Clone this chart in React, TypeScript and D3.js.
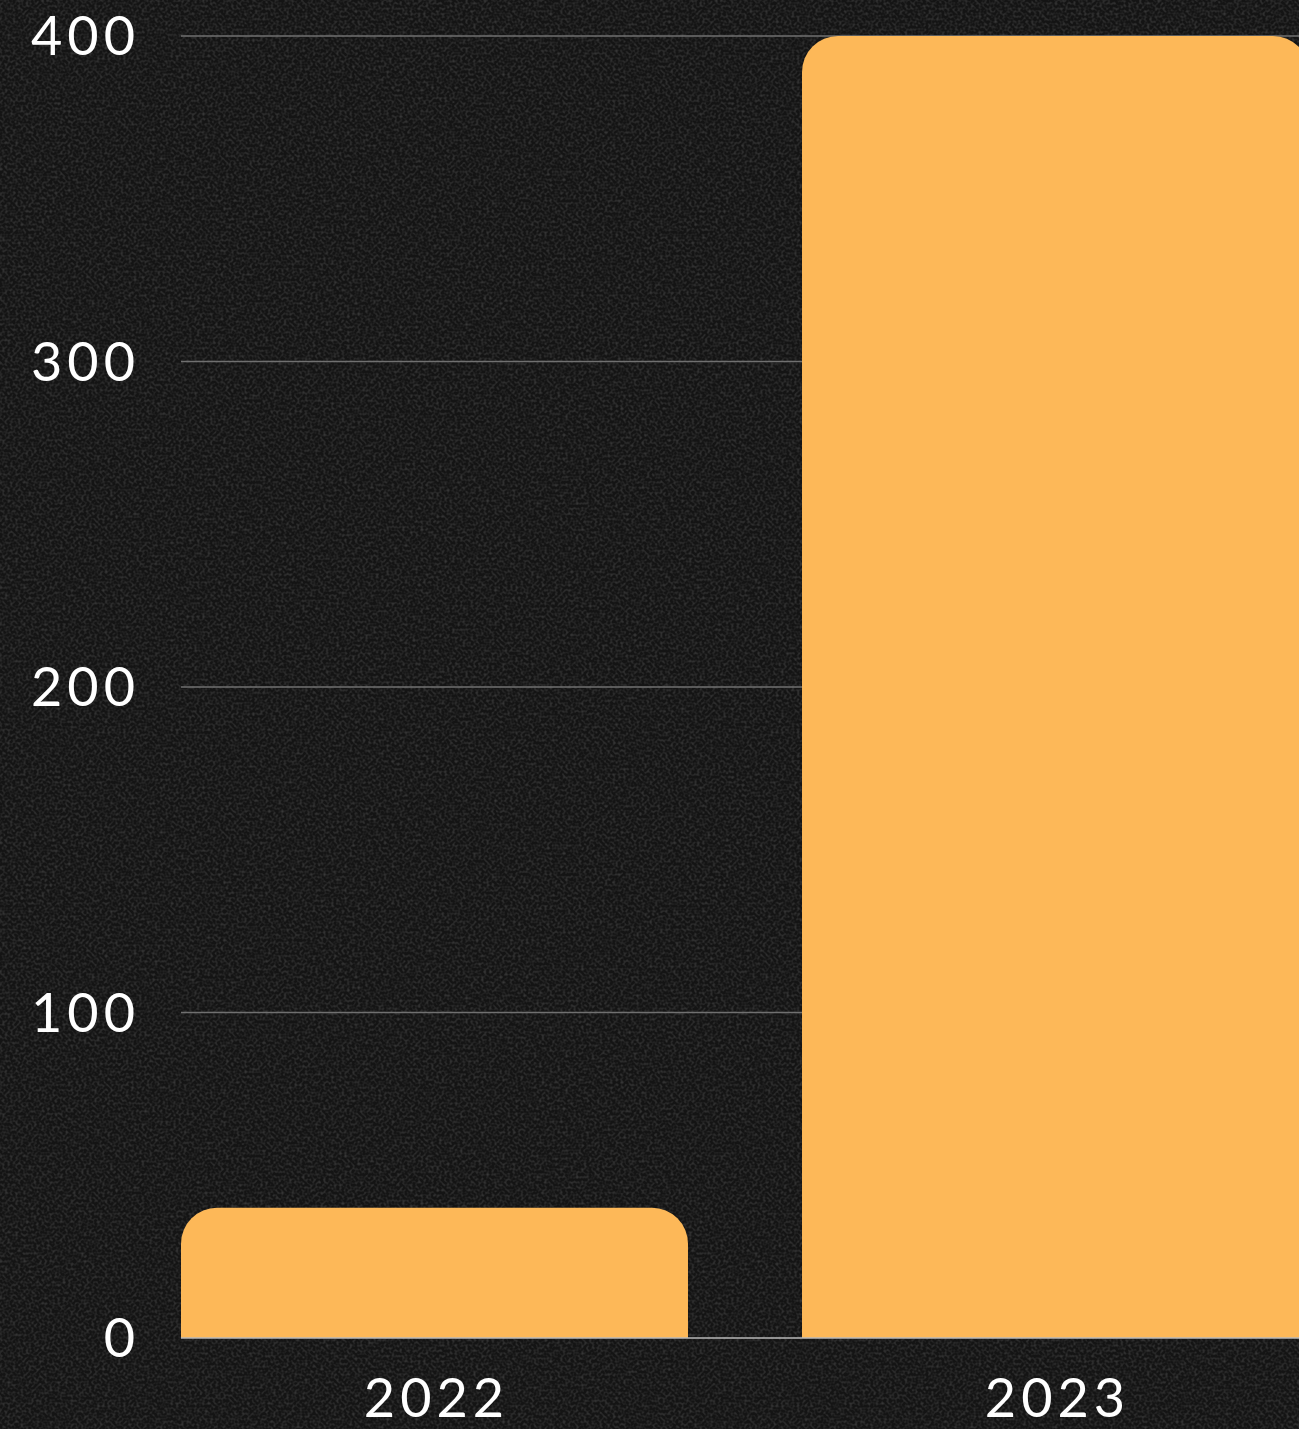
import React, { useEffect, useRef } from "react";
import * as d3 from "d3";

const years = ["2022", "2023"];
const values = [40, 400];
const yTicks = [0, 100, 200, 300, 400];

const W = 1299;
const H = 1429;
const margin = { top: 36, left: 181, bottom: 91 };

export default function App() {
  const ref = useRef<SVGSVGElement | null>(null);

  useEffect(() => {
    document.body.style.margin = "0";
    const svg = d3.select(ref.current);
    svg.selectAll("*").remove();

    // grainy dark background
    const defs = svg.append("defs");
    const f = defs.append("filter").attr("id", "grain").attr("x", 0).attr("y", 0).attr("width", "100%").attr("height", "100%");
    f.append("feTurbulence").attr("type", "fractalNoise").attr("baseFrequency", 0.38).attr("numOctaves", 1).attr("seed", 7);
    f.append("feColorMatrix").attr("type", "matrix")
      .attr("values", "0 0 0 0 1  0 0 0 0 1  0 0 0 0 1  1.6 0 0 0 -0.65");

    svg.append("rect").attr("width", W).attr("height", H).attr("fill", "#141414");
    svg.append("rect").attr("width", W).attr("height", H).attr("filter", "url(#grain)").attr("opacity", 0.22);

    const y = d3.scaleLinear().domain([0, 400]).range([H - margin.bottom, margin.top]);
    const x = d3.scaleBand<string>().domain(years).range([margin.left, 1309]).paddingInner(0.1836).paddingOuter(0);

    // gridlines
    svg.append("g")
      .selectAll("line")
      .data(yTicks.filter((t) => t > 0))
      .join("line")
      .attr("x1", margin.left)
      .attr("x2", W)
      .attr("y1", (d) => y(d))
      .attr("y2", (d) => y(d))
      .attr("stroke", "#707070")
      .attr("stroke-width", 1.5);

    // bars, rounded top corners
    const r = 36;
    svg.append("g")
      .selectAll("path")
      .data(values)
      .join("path")
      .attr("d", (d, i) => {
        const x0 = x(years[i])!;
        const x1 = x0 + x.bandwidth();
        const y0 = y(0);
        const y1 = y(d);
        const rr = Math.min(r, y0 - y1);
        return `M${x0},${y0}V${y1 + rr}A${rr},${rr} 0 0 1 ${x0 + rr},${y1}H${x1 - rr}A${rr},${rr} 0 0 1 ${x1},${y1 + rr}V${y0}Z`;
      })
      .attr("fill", "#fdb858");

    // baseline
    svg.append("line")
      .attr("x1", margin.left)
      .attr("x2", W)
      .attr("y1", y(0))
      .attr("y2", y(0))
      .attr("stroke", "#b8b8b8")
      .attr("stroke-width", 1.5);

    const font = "Lato, 'Noto Sans', sans-serif";

    // y tick labels
    svg.append("g")
      .selectAll("text")
      .data(yTicks)
      .join("text")
      .attr("x", 140)
      .attr("y", (d) => y(d) + 19)
      .attr("text-anchor", "end")
      .attr("fill", "#ffffff")
      .attr("font-family", font)
      .attr("font-size", 54)
      .attr("letter-spacing", 5)
      .text((d) => d);

    // x labels
    svg.append("g")
      .selectAll("text")
      .data(years)
      .join("text")
      .attr("x", (d) => x(d)! + x.bandwidth() / 2 + 2)
      .attr("y", 1417)
      .attr("text-anchor", "middle")
      .attr("fill", "#ffffff")
      .attr("font-family", font)
      .attr("font-size", 54)
      .attr("letter-spacing", 5)
      .text((d) => d);
  }, []);

  return <svg ref={ref} width={W} height={H} style={{ display: "block" }} />;
}
